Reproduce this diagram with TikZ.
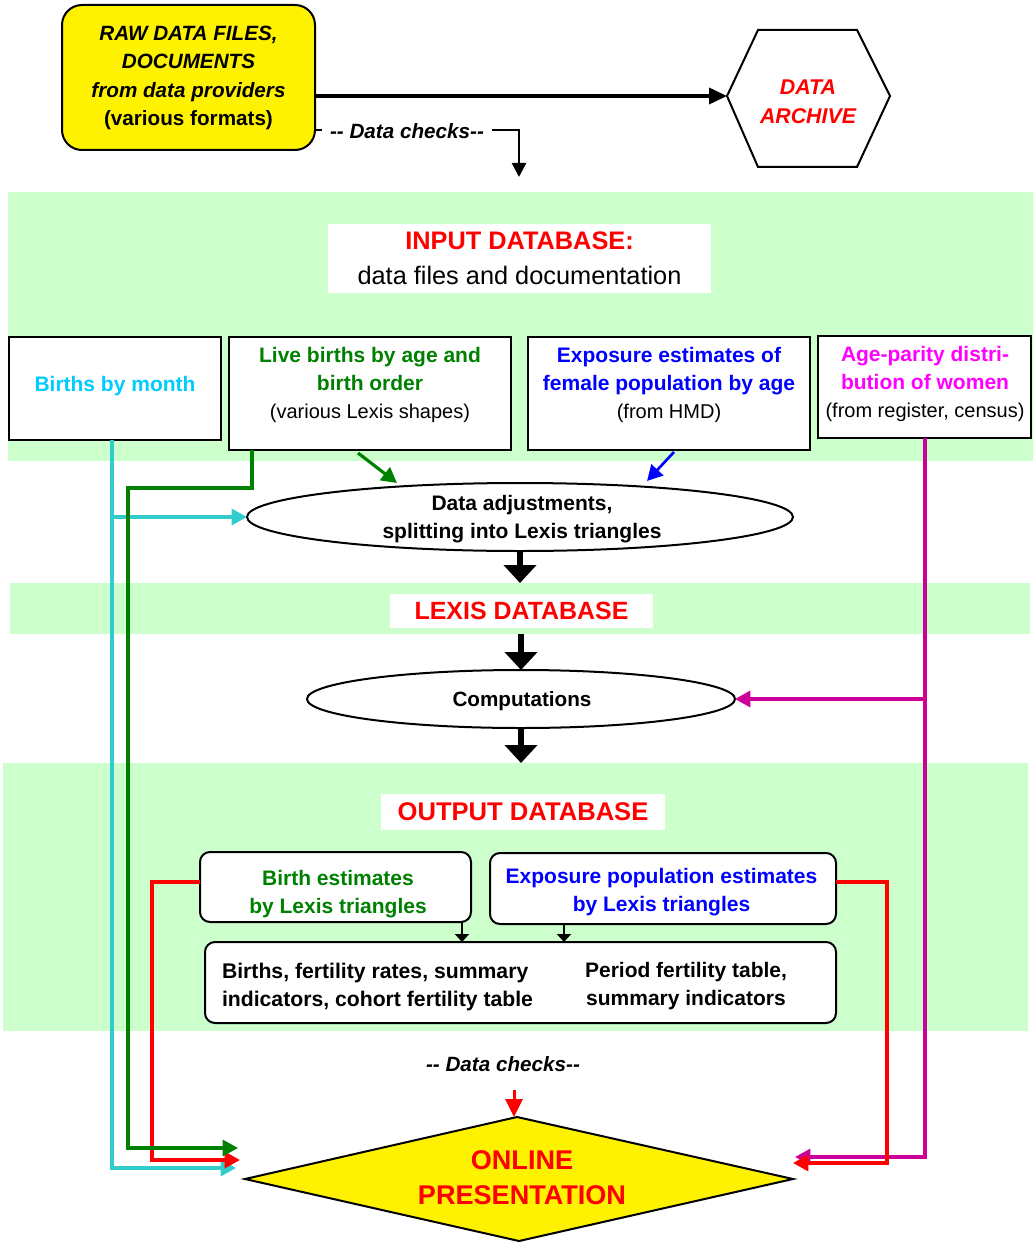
\documentclass[tikz,border=0pt]{standalone}
\usepackage{fontspec}
\setmainfont{Liberation Sans}
\usetikzlibrary{arrows.meta,shapes.geometric,calc}
\definecolor{bandgreen}{HTML}{CCFFCC}
\definecolor{cyantext}{HTML}{00CCFF}
\definecolor{cyanline}{HTML}{33CCCC}
\definecolor{darkgreen}{HTML}{008000}
\definecolor{magtext}{HTML}{FF00FF}
\definecolor{magline}{HTML}{CC0099}
\newcommand\myboxfont{\fontsize{15.75}{21}\selectfont\bfseries}
\newcommand\mysmallfont{\mdseries\fontsize{15}{19.5}\selectfont}
\newcommand\mytitlefont{\fontsize{18.7}{22}\selectfont\bfseries}
\newcommand\mycheckfont{\fontsize{15.5}{18}\selectfont\bfseries\itshape}
\tikzset{
  band/.style={fill=bandgreen, draw=none, inner sep=0pt, outer sep=0pt},
  titlebox/.style={fill=white, draw=none, inner sep=0pt, outer sep=0pt, align=center},
  srcbox/.style={draw=black, line width=1.5pt, fill=white, inner sep=0pt, outer sep=0pt},
  resbox/.style={srcbox, rounded corners=7.5pt},
  proc/.style={ellipse, draw=black, line width=1.5pt, fill=white, inner sep=0pt, outer sep=0pt, align=center, font=\myboxfont},
  txt/.style={align=center, inner sep=0pt, outer sep=0pt},
  feed/.style={line width=2.4pt, -{Triangle[length=11.5pt,width=12pt]}},
  bigarrow/.style={line width=4.5pt, -{Triangle[length=13.5pt,width=24pt]}},
  toparrow/.style={line width=2.8pt, -{Triangle[length=13.5pt,width=12pt]}},
  checkarrow/.style={line width=1.9pt, -{Triangle[length=10.5pt,width=10.5pt]}},
  smallarrow/.style={line width=1.5pt, -{Triangle[length=6pt,width=10.5pt]}},
  redcheck/.style={line width=2.25pt, red, -{Triangle[length=13.5pt,width=12.75pt]}},
}
\begin{document}
\begin{tikzpicture}[x=0.75pt,y=-0.75pt]
\fill[white] (0,0) rectangle (1033,1245);
\useasboundingbox (0,0) rectangle (1033,1245);

% bands
\node[band, minimum width=768.75pt, minimum height=201.75pt] (band1) at (520.5,326.5) {};
\node[band, minimum width=765pt, minimum height=38.25pt] (band2) at (520,608.5) {};
\node[band, minimum width=768.75pt, minimum height=201pt] (band3) at (515.5,897) {};

% raw data box
\node[srcbox, fill=yellow, rounded corners=15pt, minimum width=189.75pt, minimum height=108.75pt] (raw) at (188.5,77.5) {};
\node[txt, font=\fontsize{15.5}{21.4}\selectfont\bfseries\itshape] (rawtxt) at (188.5,78) {RAW DATA FILES,\\DOCUMENTS\\from data providers\\\upshape(various formats)};

% archive hexagon
\coordinate (archW) at (727,96);
\draw[line width=1.5pt, fill=white] (archW) -- (758,30) -- (857,30) -- (890,96) -- (857,167) -- (758,167) -- cycle;
\node[txt, text=red, font=\fontsize{16}{21.75}\selectfont\bfseries\itshape] (archive) at (808,102) {DATA\\ARCHIVE};
\draw[toparrow] (raw.east |- archW) -- (archW);

% data checks (top)
\coordinate (dcturn) at (519,130);
\coordinate (dcend) at (519,177);
\draw[checkarrow] (raw.east |- dcturn) -- (dcturn) -- (dcend);
\node[txt, fill=white, inner xsep=6pt, inner ysep=2pt, font=\mycheckfont] (dc1) at (407,131) {-{}- Data checks-{}-};

% input database
\node[titlebox, minimum width=287.25pt, minimum height=51.75pt, font=\fontsize{19}{26.25}\selectfont] (inputdb) at (519.5,258.5) {\textcolor{red}{\bfseries INPUT DATABASE:}\\data files and documentation};

% source boxes
\node[srcbox, minimum width=159pt, minimum height=77.25pt] (bm) at (115,388.5) {};
\node[txt, text=cyantext, font=\myboxfont] (bmtxt) at (115,386) {Births by month};
\node[srcbox, minimum width=211.5pt, minimum height=84.75pt] (lb) at (370,393.5) {};
\node[txt, text=darkgreen, font=\myboxfont] (lbtxt) at (370,385) {Live births by age and\\birth order\\\textcolor{black}{\mysmallfont(various Lexis shapes)}};
\node[srcbox, minimum width=211.5pt, minimum height=84.75pt] (ex) at (669,393.5) {};
\node[txt, text=blue, font=\myboxfont] (extxt) at (669,385) {Exposure estimates of\\female population by age\\\textcolor{black}{\mysmallfont(from HMD)}};
\node[srcbox, minimum width=159.75pt, minimum height=76.5pt] (ap) at (924.5,387) {};
\node[txt, text=magtext, font=\myboxfont] (aptxt) at (925,384) {Age-parity distri-\\bution of women\\\textcolor{black}{\mysmallfont(from register, census)}};

% adjustments ellipse
\node[proc, minimum width=409.5pt, minimum height=51pt] (adj) at (520,517) {};
\node[txt, font=\myboxfont] (adjtxt) at (522,519) {Data adjustments,\\splitting into Lexis triangles};

% lexis database
\node[titlebox, minimum width=197.25pt, minimum height=25.5pt, text=red, font=\mytitlefont] (lexdb) at (521.5,611) {LEXIS DATABASE};

% computations
\node[proc, minimum width=321pt, minimum height=43.5pt] (comp) at (521,699) {};
\node[txt, font=\fontsize{15.5}{20}\selectfont\bfseries] (comptxt) at (522,701) {Computations};

% output database
\node[titlebox, minimum width=213pt, minimum height=27pt, text=red, font=\fontsize{19.2}{22}\selectfont\bfseries] (outdb) at (523,812) {OUTPUT DATABASE};
\node[resbox, minimum width=203.25pt, minimum height=52.5pt] (be) at (335.5,887) {};
\node[txt, text=darkgreen, font=\myboxfont] (betxt) at (338,894) {Birth estimates\\by Lexis triangles};
\node[resbox, minimum width=259.5pt, minimum height=53.25pt] (ee) at (663,888.5) {};
\node[txt, text=blue, font=\myboxfont] (eetxt) at (661.5,892) {Exposure population estimates\\by Lexis triangles};
\node[resbox, minimum width=473.25pt, minimum height=60.75pt] (res) at (520.5,982.5) {};
\node[txt, align=left, anchor=west, font=\fontsize{15.9}{21}\selectfont\bfseries] (restxtL) at (222,987) {Births, fertility rates, summary\\indicators, cohort fertility table};
\node[txt, font=\myboxfont] (restxtR) at (686,986) {Period fertility table,\\summary indicators};

% online presentation diamond
\coordinate (onlL) at (245,1179);
\coordinate (onlT) at (517,1117);
\coordinate (onlR) at (793,1179);
\coordinate (onlB) at (519,1241);
\draw[line width=1.5pt, fill=yellow] (onlL) -- (onlT) -- (onlR) -- (onlB) -- cycle;
\node[txt, text=red, font=\fontsize{20.3}{26.25}\selectfont\bfseries] (online) at (522,1178) {ONLINE\\PRESENTATION};

% data checks (bottom)
\node[txt, font=\mycheckfont] (dc2) at (503,1064) {-{}- Data checks-{}-};
\coordinate (rc) at (514,1090);
\draw[redcheck] (rc) -- (rc |- onlT);

% thick flow arrows
\draw[bigarrow] (adj.south) -- (adj.south |- band2.north);
\draw[bigarrow] (comp.north |- band2.south) -- (comp.north);
\draw[bigarrow] (comp.south) -- (comp.south |- band3.north);

% small arrows between output boxes
\coordinate (sa1) at (462,0);
\coordinate (sa2) at (564,0);
\draw[smallarrow] (be.south -| sa1) -- (res.north -| sa1);
\draw[smallarrow] (ee.south -| sa2) -- (res.north -| sa2);

% diagonal feeds into adjustments
\coordinate (gdiag) at (397,483);
\coordinate (bdiag) at (647,481);
\draw[feed, darkgreen] ($(lb.south)+(-12,3)$) -- (gdiag);
\draw[feed, blue, line width=2pt] ($(ex.south)+(5,2)$) -- (bdiag);

% cyan: births by month
\coordinate (cyx) at (112,0);
\coordinate (cyend) at (236,1168);
\draw[feed, cyanline] (bm.south -| cyx) -- (cyx |- cyend) -- (cyend);
\draw[feed, cyanline] (cyx |- adj.west) -- (adj.west);

% red: output estimates to presentation
\coordinate (rA) at (152,882);
\coordinate (rendL) at (240,1160);
\draw[feed, red] (be.west |- rA) -- (rA) -- (rA |- rendL) -- (rendL);

% green: live births
\coordinate (gA) at (252,488);
\coordinate (gB) at (128,488);
\coordinate (gend) at (238,1148);
\draw[feed, darkgreen] (lb.south -| gA) -- (gA) -- (gB) -- (gB |- gend) -- (gend);

% magenta: age-parity
\coordinate (mx) at (925,0);
\coordinate (mend) at (795,1157);
\draw[feed, magline] (ap.south -| mx) -- (mx |- mend) -- (mend);
\draw[feed, magline] (mx |- comp.east) -- (comp.east);

% red right
\coordinate (rB) at (887,882);
\coordinate (rendR) at (793,1163);
\draw[feed, red] (ee.east |- rB) -- (rB) -- (rB |- rendR) -- (rendR);
\end{tikzpicture}
\end{document}
